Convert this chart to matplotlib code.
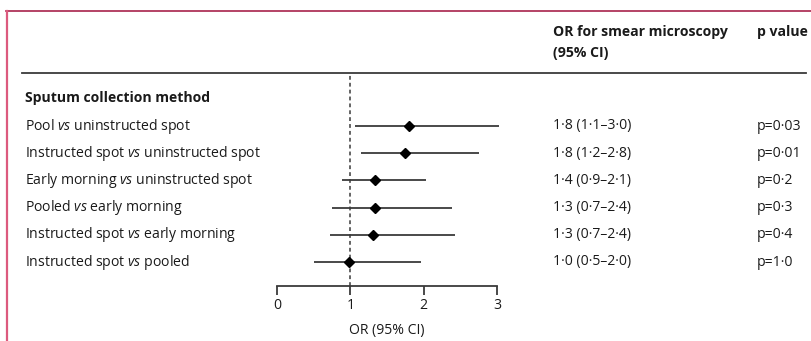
import matplotlib
matplotlib.use("Agg")
import matplotlib.pyplot as plt
from matplotlib.transforms import blended_transform_factory
from matplotlib.lines import Line2D

# ---- data ----
labels = [
    r"Pool $\mathit{vs}$ uninstructed spot",
    r"Instructed spot $\mathit{vs}$ uninstructed spot",
    r"Early morning $\mathit{vs}$ uninstructed spot",
    r"Pooled $\mathit{vs}$ early morning",
    r"Instructed spot $\mathit{vs}$ early morning",
    r"Instructed spot $\mathit{vs}$ pooled",
]
or_est = [1.8, 1.75, 1.34, 1.33, 1.31, 0.98]
ci_low = [1.06, 1.15, 0.88, 0.75, 0.72, 0.50]
ci_high = [3.03, 2.75, 2.03, 2.39, 2.43, 1.97]
or_text = ["1·8 (1·1–3·0)", "1·8 (1·2–2·8)", "1·4 (0·9–2·1)",
           "1·3 (0·7–2·4)", "1·3 (0·7–2·4)", "1·0 (0·5–2·0)"]
p_text = ["p=0·03", "p=0·01", "p=0·2", "p=0·3", "p=0·4", "p=1·0"]
xticks = [0, 1, 2, 3]
section_title = "Sputum collection method"
col_or_header = ["OR for smear microscopy", "(95% CI)"]
col_p_header = "p value"
xlabel = "OR (95% CI)"

FONT = "Open Sans"
plt.rcParams["font.family"] = [FONT, "DejaVu Sans"]
plt.rcParams["mathtext.fontset"] = "custom"
plt.rcParams["mathtext.rm"] = FONT
plt.rcParams["mathtext.it"] = FONT + ":italic"
plt.rcParams["mathtext.bf"] = FONT + ":bold"

W, H = 811, 341
fig = plt.figure(figsize=(W / 100, H / 100), dpi=100)
fig.patch.set_facecolor("white")

# axes: x 0 -> px 277, 3 -> px 497 ; y top px 73, bottom px 286
x0, x3 = 277, 497
ytop, ybot = 73, 286
ax = fig.add_axes([x0 / W, 1 - ybot / H, (x3 - x0) / W, (ybot - ytop) / H])
row_y0, row_dy = 126, 27.2
n = len(labels)
rows = list(range(n))
ax.set_ylim((ybot - row_y0) / row_dy, (ytop - row_y0) / row_dy)
ax.set_xlim(0, 3)

TXT = "#1a1a1a"
LINE = "#3a3a3a"
FS = 10.1

for i in rows:
    ax.plot([ci_low[i], ci_high[i]], [i, i], color=LINE, lw=1.3,
            solid_capstyle="butt", clip_on=False, zorder=2)
    ax.plot([or_est[i]], [i], marker="D", color="black", ms=5,
            clip_on=False, zorder=3)

ax.axvline(1, color=LINE, lw=1.1, ls=(0, (2.5, 2)), zorder=1)

for s in ["top", "right", "left"]:
    ax.spines[s].set_visible(False)
ax.spines["bottom"].set_color(LINE)
ax.spines["bottom"].set_linewidth(1.3)
ax.set_xticks(xticks)
ax.set_xticklabels([str(t) for t in xticks], fontsize=FS, color=TXT)
ax.tick_params(axis="x", direction="out", length=6.5, width=1.3, color=LINE, pad=2)
ax.set_yticks([])
ax.set_xlabel(xlabel, fontsize=FS, color=TXT, labelpad=7)
ax.patch.set_alpha(0)

# blended transform: x figure pixel fraction, y data
tr = blended_transform_factory(fig.transFigure, ax.transData)
for i in rows:
    fig.text(25 / W, i, labels[i], transform=tr, fontsize=FS, color=TXT,
             va="center", ha="left")
    fig.text(553 / W, i, or_text[i], transform=tr, fontsize=FS, color=TXT,
             va="center", ha="left")
    fig.text(757 / W, i, p_text[i], transform=tr, fontsize=FS, color=TXT,
             va="center", ha="left")

fig.text(25 / W, 1 - 98 / H, section_title, fontsize=FS, fontweight="bold",
         color=TXT, va="center", ha="left")
fig.text(553 / W, 1 - 32 / H, col_or_header[0], fontsize=FS, fontweight="bold",
         color=TXT, va="center", ha="left")
fig.text(553 / W, 1 - 53 / H, col_or_header[1], fontsize=FS, fontweight="bold",
         color=TXT, va="center", ha="left")
fig.text(757 / W, 1 - 32 / H, col_p_header, fontsize=FS, fontweight="bold",
         color=TXT, va="center", ha="left")

# header rule
fig.add_artist(Line2D([22 / W, 806 / W], [1 - 73 / H, 1 - 73 / H],
                      transform=fig.transFigure, color=LINE, lw=1.3))
# decorative border
fig.add_artist(Line2D([6 / W, 1.0], [1 - 11 / H, 1 - 11 / H],
                      transform=fig.transFigure, color="#a8224c", lw=1.2))
fig.add_artist(Line2D([7 / W, 7 / W], [0, 1 - 11 / H],
                      transform=fig.transFigure, color="#dc5a7e", lw=1.6))

fig.savefig("out.png", dpi=100, facecolor="white")
